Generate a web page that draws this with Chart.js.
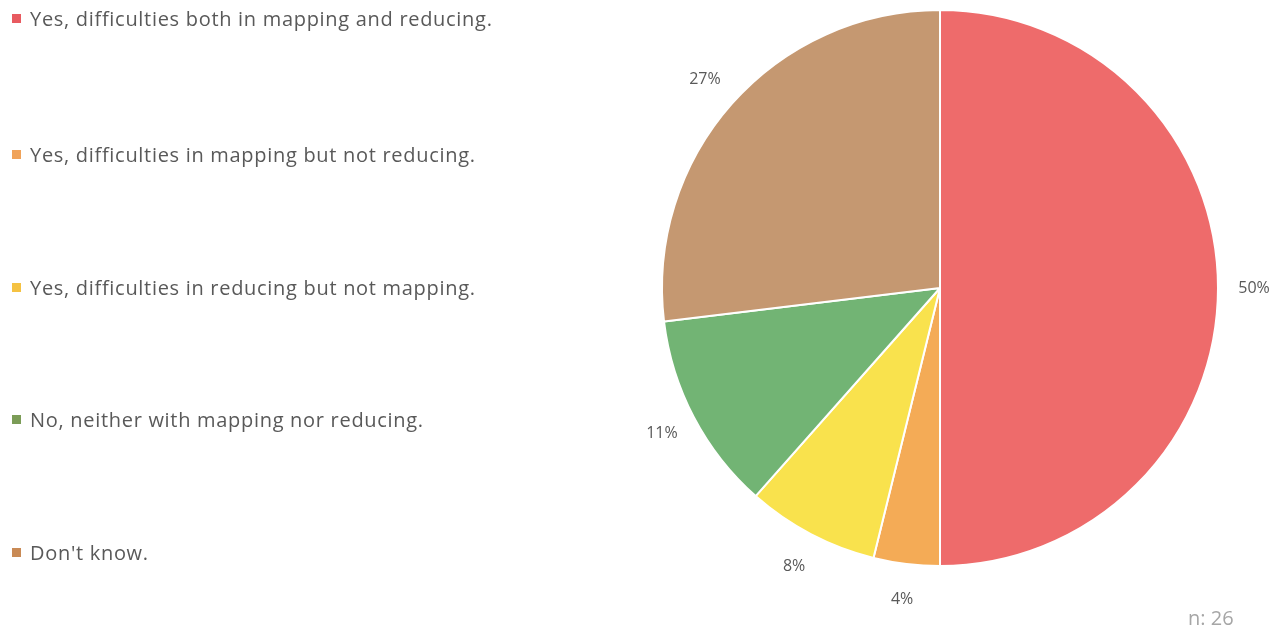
<!DOCTYPE html>
<html>
<head>
<meta charset="utf-8">
<script src="https://cdn.jsdelivr.net/npm/chart.js@4/dist/chart.umd.min.js"></script>
<style>
  html, body { margin: 0; padding: 0; background: #fff; }
  #wrap { position: relative; width: 1284px; height: 629px; overflow: hidden; }
  #c { position: absolute; left: 0; top: 0; }
  #legend { position: absolute; left: 0; top: 0; font-family: "Open Sans", sans-serif; font-size: 20px; letter-spacing: 0.7px; color: #595959; }
  .item { position: absolute; left: 12px; white-space: nowrap; display: flex; align-items: center; line-height: 27px; }
  .sw { width: 9px; height: 9px; margin-right: 9px; display: inline-block; }
  #note { position: absolute; left: 1188px; top: 604px; line-height: 27px; font-family: "Open Sans", sans-serif; font-size: 20px; color: #a6a6a6; }
</style>
</head>
<body>
<div id="wrap">
  <canvas id="c" width="1284" height="629"></canvas>
  <div id="legend"></div>
  <div id="note">n: 26</div>
</div>
<script>
// Survey answers and their respondent counts (n = 26)
const categories = [
  "Yes, difficulties both in mapping and reducing.",
  "Yes, difficulties in mapping but not reducing.",
  "Yes, difficulties in reducing but not mapping.",
  "No, neither with mapping nor reducing.",
  "Don't know."
];
const counts = [13, 1, 2, 3, 7];
const percentLabels = ["50%", "4%", "8%", "11%", "27%"];

const sliceColors = ["#ee6b6b", "#f4ab56", "#f9e24d", "#72b474", "#c59871"];
const legendColors = ["#e85a60", "#f0a35a", "#f5c242", "#7b9c57", "#c98a55"];

// Legend built beside the pie
const legendEl = document.getElementById("legend");
const legendTops = [5, 141, 274, 406, 539];
categories.forEach((name, i) => {
  const row = document.createElement("div");
  row.className = "item";
  row.style.top = legendTops[i] + "px";
  const sw = document.createElement("span");
  sw.className = "sw";
  sw.style.background = legendColors[i];
  const tx = document.createElement("span");
  tx.textContent = name;
  row.appendChild(sw);
  row.appendChild(tx);
  legendEl.appendChild(row);
});

// Percentage labels placed just outside each slice
const outsideLabels = {
  id: "outsideLabels",
  afterDatasetsDraw(chart) {
    const ctx = chart.ctx;
    const meta = chart.getDatasetMeta(0);
    ctx.save();
    ctx.font = "16px 'Open Sans', sans-serif";
    ctx.fillStyle = "#595959";
    ctx.textAlign = "center";
    ctx.textBaseline = "middle";
    meta.data.forEach((arc, i) => {
      const p = arc.getProps(["x", "y", "startAngle", "endAngle", "outerRadius"], true);
      const mid = (p.startAngle + p.endAngle) / 2;
      const r = p.outerRadius + 36;
      ctx.fillText(percentLabels[i], p.x + Math.cos(mid) * r, p.y + Math.sin(mid) * r);
    });
    ctx.restore();
  }
};

new Chart(document.getElementById("c"), {
  type: "pie",
  data: {
    labels: categories,
    datasets: [{
      data: counts,
      backgroundColor: sliceColors,
      borderColor: "#ffffff",
      borderWidth: 2
    }]
  },
  options: {
    responsive: false,
    animation: false,
    layout: { padding: { left: 661, right: 65, top: 9, bottom: 62 } },
    plugins: {
      legend: { display: false },
      tooltip: { enabled: false }
    }
  },
  plugins: [outsideLabels]
});
</script>
</body>
</html>
